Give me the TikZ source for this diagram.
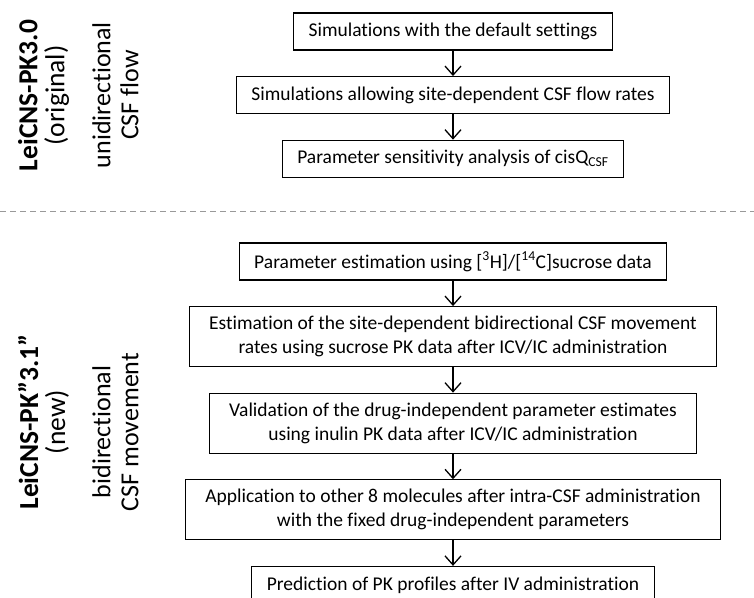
\documentclass[tikz,border=0pt]{standalone}
\usepackage{fontspec}
\setmainfont{Carlito}[Ligatures=NoCommon]
\usepackage{tikz}
\usetikzlibrary{positioning, arrows.meta}

\tikzset{
  stepbox/.style={draw, line width=1.1pt, inner xsep=15pt, minimum height=37pt, align=center, font=\fontsize{19.5}{24}\selectfont},
  twoline/.style={stepbox, inner xsep=20pt, minimum height=60pt},
  flow/.style={-{Straight Barb[length=9pt,width=16pt]}, line width=1.3pt},
  side/.style={rotate=90, align=center, font=\fontsize{26}{28}\selectfont},
  sidename/.style={side, font=\fontsize{27.5}{27}\selectfont},
  split/.style={dashed, dash pattern=on 6pt off 4pt, line width=1pt, color=black!40}
}

\begin{document}
\begin{tikzpicture}[x=1pt, y=-1pt, node distance=25.5pt]
      \def\mid{453}
      \useasboundingbox (0,0) rectangle (754,597);

      \node[sidename] (oldname) at (43.5,95.5) {\textbf{LeiCNS-PK3.0}\\(original)};
      \node[side] (oldflow) at (115.5,95) {unidirectional\\CSF flow};

      \node[stepbox] (default) at (\mid,31.5) {Simulations with the default settings};
      \node[stepbox, below=of default] (siteflow) {Simulations allowing site-dependent CSF flow rates};
      \node[stepbox, below=of siteflow] (sens) {Parameter sensitivity analysis of cisQ\textsubscript{CSF}};

      \draw[flow] (default) -- (siteflow);
      \draw[flow] (siteflow) -- (sens);

      \draw[split] (0,211) -- (754,211);

      \node[sidename] (newname) at (43.5,422) {\textbf{LeiCNS-PK”3.1”}\\(new)};
      \node[side] (newflow) at (115.5,432) {bidirectional\\CSF movement};

      \node[stepbox] (sucrose) at (\mid,261.5) {Parameter estimation using [\textsuperscript{3}H]/[\textsuperscript{14}C]sucrose data};
      \node[twoline, below=of sucrose] (bidir) {Estimation of the site-dependent bidirectional CSF movement\\rates using sucrose PK data after ICV/IC administration};
      \node[twoline, below=of bidir] (inulin) {Validation of the drug-independent parameter estimates\\using inulin PK data after ICV/IC administration};
      \node[twoline, below=of inulin] (others) {Application to other 8 molecules after intra-CSF administration\\with the fixed drug-independent parameters};
      \node[stepbox, below=of others] (ivpred) {Prediction of PK profiles after IV administration};

      \draw[flow] (sucrose) -- (bidir);
      \draw[flow] (bidir) -- (inulin);
      \draw[flow] (inulin) -- (others);
      \draw[flow] (others) -- (ivpred);
\end{tikzpicture}
\end{document}
